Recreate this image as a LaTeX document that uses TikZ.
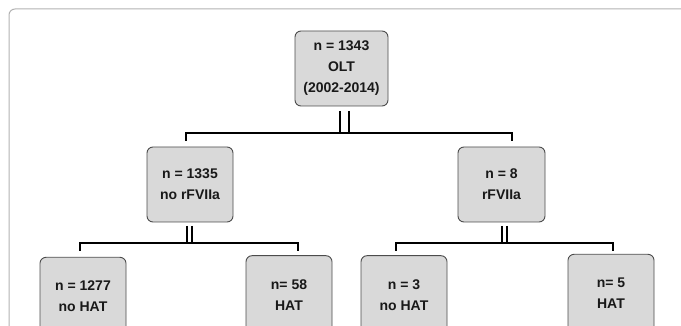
\documentclass[tikz,border=0pt]{standalone}
\usepackage{fontspec}
\setmainfont{Liberation Sans}
\begin{document}
\begin{tikzpicture}[x=1pt,y=-1pt,
  box/.style={draw=black!70,fill=black!15,line width=0.9pt,rounded corners=6pt,
    minimum width=86pt,minimum height=75pt,inner sep=0pt,align=center,
    font=\bfseries\fontsize{14}{21}\selectfont,text=black!90},
  conn/.style={draw=black,line width=1.8pt},
  frame/.style={draw=black!30,line width=1pt,rounded corners=6pt}]
\useasboundingbox (0,0) rectangle (681,326);
\begin{scope}
\clip (0,0) rectangle (681,326);
\draw[frame] (9,340) -- (9,9) -- (695,9);
% nodes
\node[box,minimum width=93pt] (top) at (341.5,68.5) {n = 1343\\OLT\\(2002-2014)};
\node[box] (ml) at (190,184.5) {n = 1335\\no rFVIIa};
\node[box,minimum width=87pt] (mr) at (501.5,184.5) {n = 8\\rFVIIa};
\node[box,minimum height=78pt] (b1) at (83,296.3) {n = 1277\\no HAT};
\node[box,minimum height=78pt] (b2) at (289,294.7) {n= 58\\HAT};
\node[box,minimum height=78pt] (b3) at (404,294.7) {n = 3\\no HAT};
\node[box,minimum height=78pt] (b4) at (611,293.3) {n= 5\\HAT};
% junction coordinates
\coordinate (t1) at (340,111); \coordinate (t2) at (349,111);
\coordinate (t1b) at (340,133); \coordinate (t2b) at (349,133);
\coordinate (hl) at (186,133); \coordinate (hr) at (512,133);
\coordinate (hlt) at (186,141); \coordinate (hrt) at (512,141);
\coordinate (l1) at (187,226); \coordinate (l2) at (192,226);
\coordinate (l1b) at (187,243); \coordinate (l2b) at (192,243);
\coordinate (ll) at (80,243); \coordinate (lr) at (298,243);
\coordinate (llt) at (80,251); \coordinate (lrt) at (298,251);
\coordinate (r1) at (502,226); \coordinate (r2) at (507,226);
\coordinate (r1b) at (502,243); \coordinate (r2b) at (507,243);
\coordinate (rl) at (396,243); \coordinate (rr) at (613,243);
\coordinate (rlt) at (396,251); \coordinate (rrt) at (613,251);
% connectors
\draw[conn] (t1) -- (t1b); \draw[conn] (t2) -- (t2b);
\draw[conn] (hlt) -- (hl) -- (hr) -- (hrt);
\draw[conn] (l1) -- (l1b); \draw[conn] (l2) -- (l2b);
\draw[conn] (llt) -- (ll) -- (lr) -- (lrt);
\draw[conn] (r1) -- (r1b); \draw[conn] (r2) -- (r2b);
\draw[conn] (rlt) -- (rl) -- (rr) -- (rrt);
\end{scope}
\end{tikzpicture}
\end{document}
